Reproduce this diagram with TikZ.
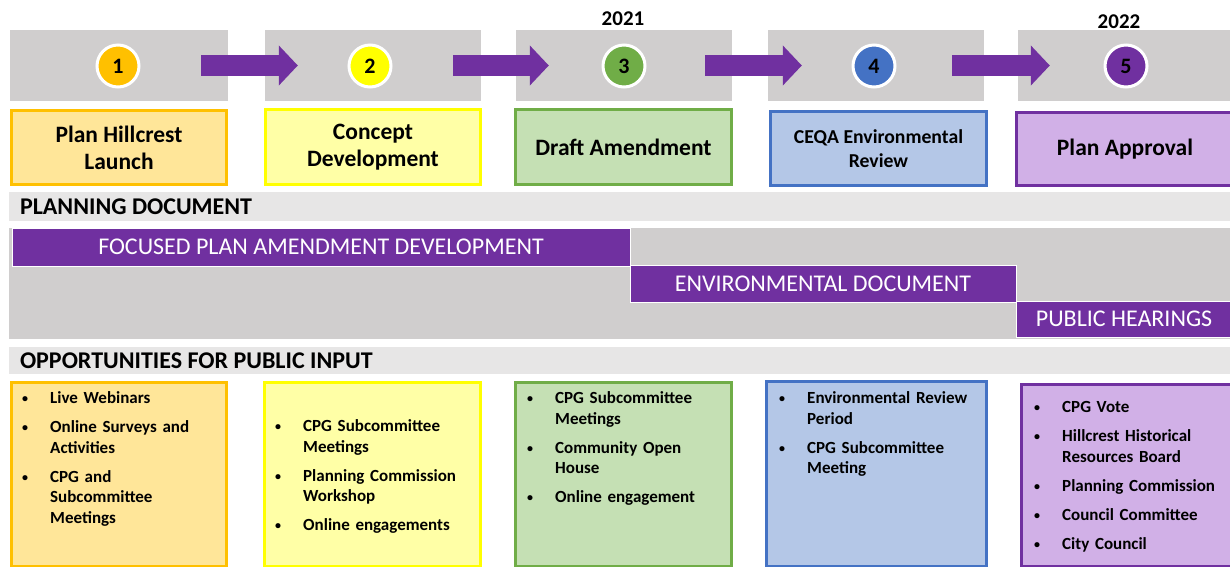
\documentclass[tikz,border=0pt]{standalone}
\usepackage{fontspec}
\setmainfont{Carlito}
\usetikzlibrary{arrows.meta}

\definecolor{panelgray}{HTML}{D0CECE}
\definecolor{bargray}{HTML}{E7E6E6}
\definecolor{violet}{HTML}{7030A0}
\definecolor{gold}{HTML}{FFC000}
\definecolor{goldfill}{HTML}{FFE699}
\definecolor{lemon}{HTML}{FFFF00}
\definecolor{lemonfill}{HTML}{FFFFA6}
\definecolor{leaf}{HTML}{70AD47}
\definecolor{leaffill}{HTML}{C5E0B4}
\definecolor{sky}{HTML}{4472C4}
\definecolor{skyfill}{HTML}{B4C7E7}
\definecolor{lilacfill}{HTML}{D1B0E7}

% one bullet item: small bullet, continuation lines hang under the text
\newcommand{\itm}[1]{\noindent\hangindent=28pt\hangafter=1\makebox[28pt][l]{\raisebox{1pt}{\fontsize{12}{12}\selectfont\textbullet}}#1\par\vspace{8.5pt}}

\begin{document}
\begin{tikzpicture}[x=1pt,y=-1pt,
  panel/.style={rectangle, inner sep=0, fill=panelgray},
  stepnum/.style={circle, inner sep=0, minimum size=42pt, draw=white, line width=3pt,
    font=\fontsize{22}{22}\selectfont\bfseries},
  flow/.style={violet, line width=21pt, -{Triangle[length=19pt,width=39pt]}},
  stage/.style={rectangle, inner sep=0, line width=3pt, align=center,
    font=\fontsize{23.5}{27}\selectfont\bfseries},
  year/.style={font=\fontsize{21}{21}\selectfont\bfseries},
  headbar/.style={rectangle, inner sep=0, fill=bargray, minimum width=1223pt},
  headtext/.style={anchor=west, inner sep=0, font=\fontsize{24}{24}\selectfont\bfseries},
  phase/.style={rectangle, inner sep=0, fill=violet, draw=white, line width=0.8pt,
    text=white, font=\fontsize{24}{24}\selectfont},
  inputbox/.style={rectangle, inner sep=0, line width=3pt},
  bullets/.style={anchor=base west, inner sep=0, text width=190pt, align=left,
    font=\fontsize{17}{20.5}\selectfont\bfseries}
]
\useasboundingbox (0,0) rectangle (1230,566);

% step panels
\node[panel, minimum width=218pt, minimum height=71pt] (g1) at (119,65.5) {};
\node[panel, minimum width=216pt, minimum height=71pt] (g2) at (373,65.5) {};
\node[panel, minimum width=216pt, minimum height=71pt] (g3) at (624,65.5) {};
\node[panel, minimum width=216pt, minimum height=71pt] (g4) at (876,65.5) {};
\node[panel, minimum width=214pt, minimum height=71pt] (g5) at (1125,65.5) {};

% flow arrows between panels
\draw[flow] ([xshift=-27pt]g1.east) -- ([xshift=33pt]g2.west);
\draw[flow] ([xshift=-28pt]g2.east) -- ([xshift=33pt]g3.west);
\draw[flow] ([xshift=-27pt]g3.east) -- ([xshift=34pt]g4.west);
\draw[flow] ([xshift=-32pt]g4.east) -- ([xshift=32pt]g5.west);

% numbered steps
\node[stepnum, fill=gold]  (c1) at (118,66) {1};
\node[stepnum, fill=lemon] (c2) at (370,66) {2};
\node[stepnum, fill=leaf]  (c3) at (624,66) {3};
\node[stepnum, fill=sky]   (c4) at (874,66) {4};
\node[stepnum, fill=violet](c5) at (1126,66) {5};

\node[year] (y1) at (623,19) {2021};
\node[year] (y2) at (1119,22) {2022};

% stage titles
\node[stage, draw=gold, fill=goldfill, minimum width=215pt, minimum height=74pt] (s1) at (119,147.5) {Plan Hillcrest\\Launch};
\node[stage, draw=lemon, fill=lemonfill, minimum width=215pt, minimum height=75pt] (s2) at (373,147) {Concept\\Development};
\node[stage, draw=leaf, fill=leaffill, minimum width=216pt, minimum height=75pt] (s3) at (623.5,147) {Draft Amendment};
\node[stage, draw=sky, fill=skyfill, minimum width=216pt, minimum height=74pt,
  font=\fontsize{19.7}{24}\selectfont\bfseries] (s4) at (878.5,148.5) {CEQA Environmental\\Review};
\node[stage, draw=violet, fill=lilacfill, minimum width=217pt, minimum height=73pt] (s5) at (1125,149) {Plan Approval};

% planning document band
\node[headbar, minimum height=29pt] (h1) at (620.5,206.5) {};
\node[headtext] (h1t) at ([xshift=11pt]h1.west) {PLANNING DOCUMENT};
\node[panel, minimum width=1223pt, minimum height=111pt] (band) at (620.5,283.5) {};
\node[phase, minimum width=618pt, minimum height=38pt] (p1) at (321,247) {FOCUSED PLAN AMENDMENT DEVELOPMENT};
\node[phase, minimum width=386pt, minimum height=37pt] (p2) at (823,283.5) {ENVIRONMENTAL DOCUMENT};
\node[phase, minimum width=216pt, minimum height=36pt] (p3) at (1124,319) {PUBLIC HEARINGS};

% public input band
\node[headbar, minimum height=27pt] (h2) at (620.5,360.5) {};
\node[headtext] (h2t) at ([xshift=11pt]h2.west) {OPPORTUNITIES FOR PUBLIC INPUT};

\node[inputbox, draw=gold, fill=goldfill, minimum width=215pt, minimum height=184pt] (b1) at (119,474.5) {};
\node[inputbox, draw=lemon, fill=lemonfill, minimum width=216pt, minimum height=184pt] (b2) at (372.5,474.5) {};
\node[inputbox, draw=leaf, fill=leaffill, minimum width=216pt, minimum height=184pt] (b3) at (623.5,474.5) {};
\node[inputbox, draw=sky, fill=skyfill, minimum width=220pt, minimum height=185pt] (b4) at (876.5,474) {};
\node[inputbox, draw=violet, fill=lilacfill, minimum width=212pt, minimum height=182pt] (b5) at (1127.5,475.5) {};

\node[bullets] (t1) at (22,403.5) {\itm{Live Webinars}\itm{Online Surveys and\newline Activities}\itm{CPG and\newline Subcommittee\newline Meetings}};
\node[bullets] (t2) at (275,431.5) {\itm{CPG Subcommittee\newline Meetings}\itm{Planning Commission\newline Workshop}\itm{Online engagements}};
\node[bullets] (t3) at (527,403.5) {\itm{CPG Subcommittee\newline Meetings}\itm{Community Open\newline House}\itm{Online engagement}};
\node[bullets] (t4) at (779,403.5) {\itm{Environmental Review\newline Period}\itm{CPG Subcommittee\newline Meeting}};
\node[bullets] (t5) at (1034,412.5) {\itm{CPG Vote}\itm{Hillcrest Historical\newline Resources Board}\itm{Planning Commission}\itm{Council Committee}\itm{City Council}};
\end{tikzpicture}
\end{document}
